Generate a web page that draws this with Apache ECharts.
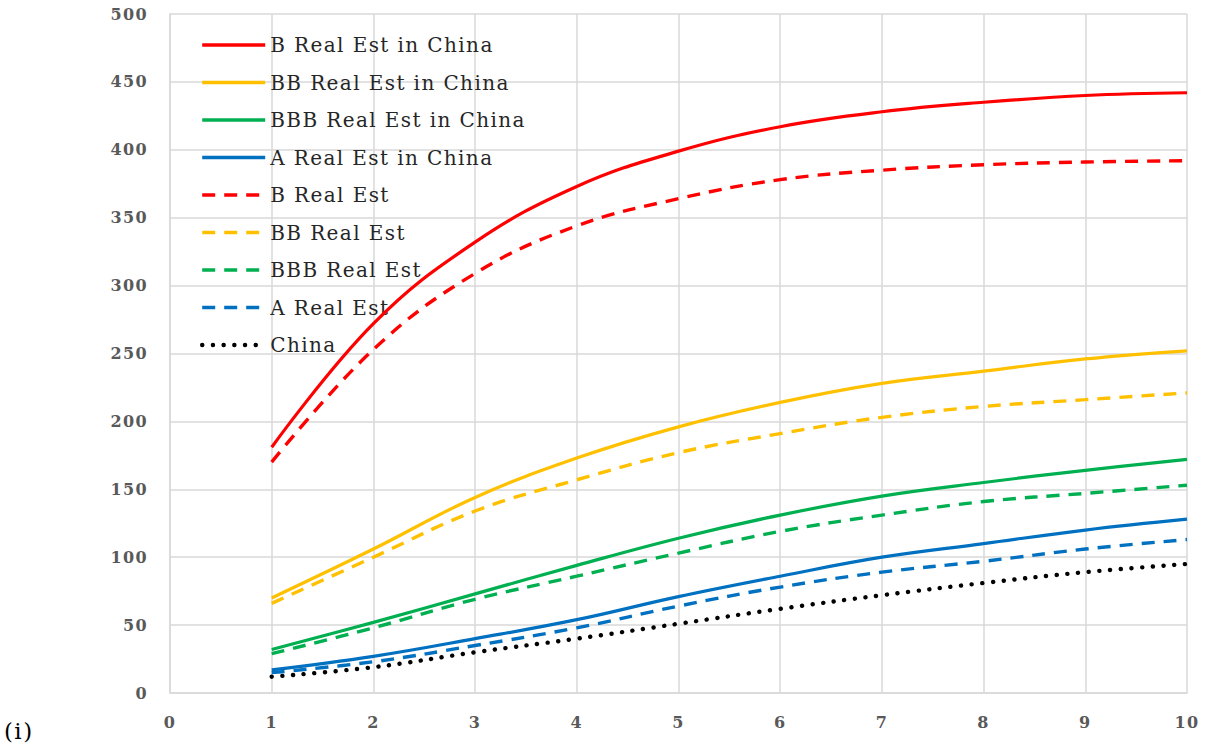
<!DOCTYPE html>
<html>
<head>
<meta charset="utf-8">
<script src="https://cdn.jsdelivr.net/npm/echarts@6/dist/echarts.min.js"></script>
<style>
  html, body { margin: 0; padding: 0; background: #fff; }
  #chart { width: 1207px; height: 745px; }
  #chart text { letter-spacing: 1.4px; }
</style>
</head>
<body>
<div id="chart"></div>
<script>
// ---- data ----
const xValues = [1, 2, 3, 4, 5, 6, 7, 8, 9, 10];
const seriesNames = [
  "B Real Est in China", "BB Real Est in China", "BBB Real Est in China", "A Real Est in China",
  "B Real Est", "BB Real Est", "BBB Real Est", "A Real Est", "China"
];
const bRealEstChina   = [181, 272, 332, 373, 399, 417, 428, 435, 440, 442];
const bbRealEstChina  = [70, 106, 144, 173, 196, 214, 228, 237, 246, 252];
const bbbRealEstChina = [32, 52, 73, 94, 114, 131, 145, 155, 164, 172];
const aRealEstChina   = [17, 27, 40, 54, 71, 86, 100, 110, 120, 128];
const bRealEst        = [170, 253, 309, 344, 364, 378, 385, 389, 391, 392];
const bbRealEst       = [66, 100, 134, 157, 177, 191, 203, 211, 216, 221];
const bbbRealEst      = [29, 48, 69, 86, 103, 119, 131, 141, 147, 153];
const aRealEst        = [15, 23, 35, 48, 64, 78, 89, 97, 106, 113];
const china           = [12, 19, 30, 40, 51, 62, 72, 81, 89, 95];
const panelLabel = "(i)";

const allValues = [bRealEstChina, bbRealEstChina, bbbRealEstChina, aRealEstChina,
                   bRealEst, bbRealEst, bbbRealEst, aRealEst, china];
const colors = ["#FF0000", "#FFC000", "#00B050", "#0070C0",
                "#FF0000", "#FFC000", "#00B050", "#0070C0", "#000000"];
const styles = ["solid", "solid", "solid", "solid",
                "dash", "dash", "dash", "dash", "dot"];

const FONT = "'DejaVu Serif', 'Liberation Serif', serif";

function lineStyleFor(i) {
  let ls = { color: colors[i], width: 3.2 };
  if (styles[i] === "dash") { ls.type = [13, 9]; ls.cap = "butt"; ls.width = 3.4; }
  if (styles[i] === "dot") { ls.type = [0.1, 10.6]; ls.cap = "round"; ls.width = 4.4; }
  return ls;
}

const series = allValues.map((vals, i) => ({
  name: seriesNames[i],
  type: "line",
  data: vals.map((v, j) => [xValues[j], v]),
  smooth: 0.4,
  symbol: "none",
  showSymbol: false,
  lineStyle: lineStyleFor(i),
  itemStyle: { color: colors[i] },
  z: 10 - i
}));

const legendData = seriesNames.map((n, i) => {
  const ls = lineStyleFor(i);
  return {
    name: n,
    lineStyle: {
      color: colors[i],
      width: styles[i] === "dot" ? 4.4 : 3.6,
      type: styles[i] === "solid" ? "solid" : ls.type,
      cap: ls.cap || "butt"
    }
  };
});

const chart = echarts.init(document.getElementById("chart"), null, { renderer: "svg" });
chart.setOption({
  animation: false,
  backgroundColor: "#ffffff",
  grid: { left: 170, right: 20, top: 14, bottom: 52, containLabel: false },
  legend: {
    orient: "vertical",
    left: 200,
    top: 35,
    padding: 0,
    itemWidth: 63,
    itemHeight: 20,
    itemGap: 17.5,
    data: legendData,
    lineStyle: { width: 3.6 },
    itemStyle: { color: "transparent", borderColor: "transparent", borderWidth: 0, opacity: 0 },
    textStyle: { fontFamily: FONT, fontSize: 20, color: "#262626" },
    backgroundColor: "transparent"
  },
  xAxis: {
    type: "value",
    min: 0, max: 10, interval: 1,
    axisLine: { show: true, lineStyle: { color: "#d9d9d9", width: 1.5 } },
    axisTick: { show: false },
    splitLine: { show: true, lineStyle: { color: "#d9d9d9", width: 1.5 } },
    axisLabel: { fontFamily: FONT, fontSize: 16, color: "#595959", margin: 21, fontWeight: "bold" }
  },
  yAxis: {
    type: "value",
    min: 0, max: 500, interval: 50,
    axisLine: { show: true, lineStyle: { color: "#d9d9d9", width: 1.5 } },
    axisTick: { show: false },
    splitLine: { show: true, lineStyle: { color: "#d9d9d9", width: 1.5 } },
    axisLabel: { fontFamily: FONT, fontSize: 16, color: "#595959", margin: 22, fontWeight: "bold" }
  },
  graphic: [{
    type: "text",
    left: 4,
    top: 719,
    style: { text: panelLabel, fontFamily: FONT, fontSize: 23, fill: "#000000" }
  }],
  series: series
});
</script>
</body>
</html>
